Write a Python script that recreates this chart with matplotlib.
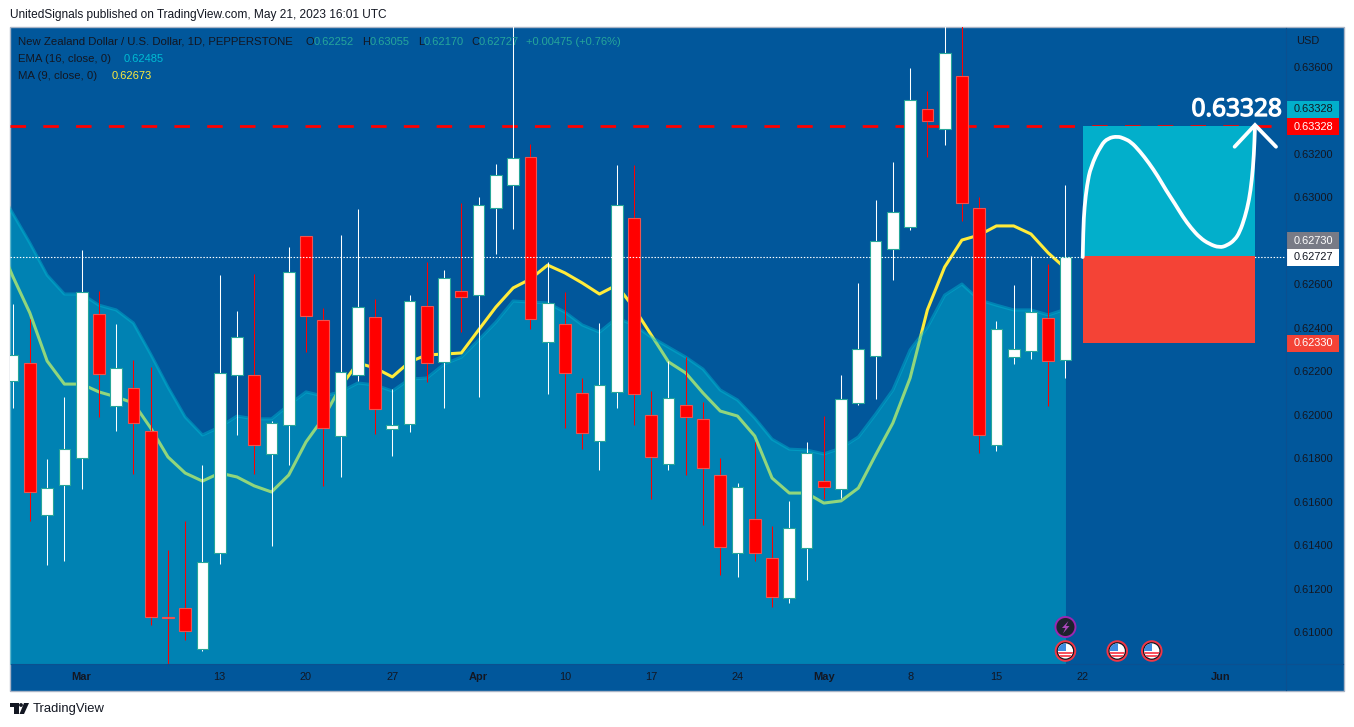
import numpy as np
import matplotlib
matplotlib.use("Agg")
import matplotlib.pyplot as plt
import matplotlib.patheffects as pe
from matplotlib.patches import Rectangle, Circle, Polygon, PathPatch
from matplotlib.path import Path

plt.rcParams['font.family'] = ['Liberation Sans', 'DejaVu Sans']

opens = [.62154,.62237,.61538,.61676,.61800,.62462,.62039,.62122,.61924,.61069,.61110,.60922,.61363,.62181,.62181,.61818,.61952,.62820,.62434,.61901,.62181,.62448,.61933,.61956,.62499,.62241,.62568,.62549,.62949,.63055,.63184,.62334,.62417,.62099,.61878,.62103,.62903,.61997,.61772,.62043,.61979,.61722,.61363,.61519,.61340,.61156,.61386,.61694,.61657,.62053,.62270,.62761,.62862,.63404,.63312,.63556,.62949,.61860,.62264,.62292,.62443,.62252]
highs = [.62509,.62440,.61797,.62082,.62757,.62569,.62417,.62252,.62218,.61378,.61510,.61769,.62642,.62477,.62647,.61971,.62771,.62820,.62491,.62826,.62946,.62532,.62118,.62550,.62704,.62665,.62972,.63001,.63154,.63850,.63245,.62704,.62564,.62168,.62423,.63148,.63148,.62109,.62247,.62264,.62060,.61803,.61685,.61876,.61489,.61602,.61875,.61994,.62183,.62606,.62987,.63162,.63593,.63488,.63850,.63850,.63000,.62431,.62596,.62730,.62692,.63055]
lows = [.62031,.61512,.61309,.61329,.61659,.61988,.61927,.61728,.61034,.60850,.60965,.60915,.61314,.61907,.61728,.61397,.61769,.62290,.61674,.61715,.62154,.61911,.61810,.61922,.62152,.62031,.62379,.62083,.62739,.62854,.62393,.62095,.61940,.61844,.61746,.62031,.61953,.61614,.61746,.61723,.61493,.61263,.61256,.61328,.61118,.61136,.61240,.61611,.61616,.62045,.62071,.62619,.62849,.63186,.63240,.62891,.61826,.61833,.62233,.62258,.62042,.62170]
closes = [.62273,.61646,.61665,.61844,.62566,.62186,.62216,.61963,.61069,.61066,.61005,.61324,.62191,.62359,.61862,.61961,.62655,.62453,.61938,.62198,.62494,.62025,.61954,.62524,.62239,.62627,.62540,.62963,.63101,.63179,.62439,.62512,.62191,.61917,.62138,.62963,.62094,.61807,.62078,.61991,.61757,.61391,.61669,.61366,.61161,.61481,.61826,.61667,.62071,.62301,.62800,.62933,.63446,.63352,.63662,.62975,.61908,.62393,.62304,.62474,.62248,.62727]

# the two averages start one session before the first visible candle
ema16 = [.63065,.62927,.62790,.62642,.62555,.62555,.62504,.62482,.62422,.62279,.62128,.61990,.61907,.61944,.61994,.61981,.61981,.62045,.62105,.62086,.62105,.62146,.62137,.62109,.62164,.62169,.62233,.62265,.62344,.62426,.62523,.62518,.62514,.62472,.62413,.62380,.62445,.62413,.62357,.62311,.62265,.62210,.62114,.62068,.61985,.61888,.61842,.61838,.61820,.61847,.61898,.62003,.62114,.62298,.62403,.62550,.62601,.62528,.62504,.62482,.62482,.62459,.62485]
ma9 = [.62826,.62638,.62468,.62247,.62141,.62141,.62105,.62082,.62054,.61939,.61806,.61732,.61695,.61732,.61714,.61673,.61645,.61723,.61875,.61985,.62128,.62238,.62215,.62174,.62243,.62275,.62279,.62284,.62390,.62495,.62583,.62624,.62688,.62652,.62606,.62555,.62596,.62491,.62367,.62243,.62192,.62100,.62017,.61994,.61902,.61709,.61640,.61640,.61594,.61604,.61663,.61815,.61962,.62169,.62482,.62679,.62803,.62826,.62868,.62868,.62831,.62744,.62673]

price_ticks = [.610,.612,.614,.616,.618,.620,.622,.624,.626,.630,.632,.636]
date_ticks = [4,12,17,22,27,32,37,42,47,52,57,62,70]
date_labels = ['Mar','13','20','27','Apr','10','17','24','May','8','15','22','Jun']
event_flags = [61,64,66]
event_bolt = [61]

target = .63328
entry = .62730
stop = .62330
last = .62727
box_left, box_right = 62.0, 71.98
path_x = [62.0,62.03,62.1,62.25,62.46,63.06,63.47,64.02,64.4,64.80,65.3,65.84,66.35,66.82,67.35,67.81,68.28,68.80,69.33,69.92,70.36,70.80,71.1,71.40,71.64,71.80,71.92,71.98]
path_y = [.62725,.62850,.62955,.63056,.63139,.63240,.63272,.63280,.63270,.63254,.63212,.63157,.63097,.63033,.62969,.62909,.62858,.62813,.62785,.62768,.62778,.62803,.62840,.62909,.62987,.63079,.63194,.63323]
head_x = [70.8,71.98,73.2]
head_y = [.63232,.63332,.63232]

BG = '#01579B'
INK = '#131722'
W, H = 1354, 727
fig = plt.figure(figsize=(W/100, H/100), dpi=100, facecolor='white')

# ---- page layer in pixels -------------------------------------------------
page = fig.add_axes([0, 0, 1, 1], zorder=0)
page.set_xlim(0, W); page.set_ylim(H, 0); page.axis('off')
page.add_patch(Rectangle((10, 27), 1334, 664, fc=BG, ec='#A9B4C6', lw=1))

# ---- chart -----------------------------------------------------------------
x0, bar = 12.6, 17.26
left_i, right_i = (10-x0)/bar, (1286-x0)/bar
ax = fig.add_axes([10/W, (H-664)/H, 1276/W, 637/H], zorder=1)
ax.patch.set_alpha(0)
ax.set_xlim(left_i, right_i)
ax.set_ylim(.608542, .637825)
for s in ax.spines.values():
    s.set_visible(False)

n = len(opens)
idx = np.arange(n)
o, h, l, c = map(np.array, (opens, highs, lows, closes))
up = c >= o
ma_x = ema_x = np.arange(-1, n)

ax.plot(ma_x, ma9, color='#FFEB3B', lw=2.2, zorder=1, solid_joinstyle='round')
ax.fill_between(ema_x, ema16, .6, color='#00BCD4', alpha=.43, lw=0, zorder=2)
ax.plot(ema_x, ema16, color='#00BCD4', alpha=.43, lw=2.2, zorder=3)

ax.plot([left_i, 73.4], [target, target], color='#FF0000', lw=2.0, ls=(0, (5.6, 6.2)), zorder=2.5)

for mask, col in ((up, 'white'), (~up, '#FF0000')):
    wicks = ax.vlines(idx[mask], l[mask], h[mask], color=col, lw=.75, zorder=4)
    wicks.set_snap(True)
ax.bar(idx[up], (c-o)[up], bottom=o[up], width=.68, color='white', edgecolor='#26A69A', lw=.8, zorder=5)
ax.bar(idx[~up], (o-c)[~up], bottom=c[~up], width=.68, color='#FF0000', edgecolor='#EF5350', lw=.8, zorder=5)

ax.axhline(last, color='white', lw=.8, ls=(0, (1.3, 1.5)), zorder=6)

ax.add_patch(Rectangle((box_left, entry), box_right-box_left, target-entry, fc='#02AFCB', ec='none', zorder=6))
ax.add_patch(Rectangle((box_left, stop), box_right-box_left, entry-stop, fc='#F44336', ec='none', zorder=6))

# smooth hand-drawn curve: the read points act as quadratic control points
px, py = np.array(path_x), np.array(path_y)
mx, my = (px[:-1]+px[1:])/2, (py[:-1]+py[1:])/2
verts = [(px[0], py[0])]
codes = [Path.MOVETO]
for k in range(1, len(px)-1):
    verts += [(px[k], py[k]), (mx[k], my[k])]
    codes += [Path.CURVE3, Path.CURVE3]
verts.append((px[-1], py[-1]))
codes.append(Path.LINETO)
ax.add_patch(PathPatch(Path(verts, codes), fc='none', ec='white', lw=2.7, zorder=7, capstyle='round', joinstyle='round'))
ax.plot(head_x, head_y, color='white', lw=2.7, zorder=7, solid_capstyle='round', solid_joinstyle='miter')

ax.yaxis.tick_right()
ax.set_yticks(price_ticks)
ax.set_yticklabels([f'{v:.5f}' for v in price_ticks], fontsize=7.9, color=INK)
ax.set_xticks(date_ticks)
ax.set_xticklabels(date_labels, fontsize=7.9, color=INK)
for t, s in zip(ax.get_xticklabels(), date_labels):
    if s.isalpha():
        t.set_fontweight('bold')
ax.tick_params(axis='y', length=0, pad=5.4)
ax.tick_params(axis='x', length=0, pad=5.6)

# ---- overlay layer ---------------------------------------------------------
top = fig.add_axes([0, 0, 1, 1], zorder=2)
top.set_xlim(0, W); top.set_ylim(H, 0); top.axis('off')
top.plot([1286, 1286], [28, 690], color='#0B5090', lw=.8)
top.plot([11, 1343], [664, 664], color='#0B5090', lw=.8)

top.text(10, 15, 'UnitedSignals published on TradingView.com, May 21, 2023 16:01 UTC', fontsize=8.6, color=INK, va='center')
top.text(33, 709, 'TradingView', fontsize=9.4, color=INK, va='center')
top.add_patch(Polygon([(10,703),(19,703),(19,714),(14,714),(14,707),(10,707)], fc=INK, ec='none'))
top.add_patch(Circle((21,705), 1.9, fc=INK, ec='none'))
top.add_patch(Polygon([(24,703),(29,703),(24,714),(19.5,714)], fc=INK, ec='none'))

LEG = 8.2
top.text(18, 42, 'New Zealand Dollar / U.S. Dollar, 1D, PEPPERSTONE', fontsize=LEG, color=INK, va='center')
for x, s, col in [(306,'O',INK),(313.5,'0.62252','#26A69A'),(362,'H',INK),(369.5,'0.63055','#26A69A'),
                  (418,'L',INK),(423.5,'0.62170','#26A69A'),(471,'C',INK),(479,'0.62727','#26A69A'),
                  (526.5,'+0.00475 (+0.76%)','#26A69A')]:
    top.text(x, 42, s, fontsize=8.0, color=col, va='center')
top.text(17.5, 59, 'EMA (16, close, 0)', fontsize=LEG, color=INK, va='center')
top.text(123.5, 59, '0.62485', fontsize=8.0, color='#00BCD4', va='center')
top.text(18, 76, 'MA (9, close, 0)', fontsize=LEG, color=INK, va='center')
top.text(111.5, 76, '0.62673', fontsize=8.0, color='#FFEB3B', va='center')

top.text(1296, 41, 'USD', fontsize=7.9, color=INK, va='center')
for y0, y1, s, fc, tc in [(101,118,'0.63328','#02AFCB',INK),(118,135,'0.63328','#FF0000','white'),
                          (232,249,'0.62730','#787B86','white'),(249,266,'0.62727','white',INK),
                          (335,352,'0.62330','#F44336','white')]:
    top.add_patch(Rectangle((1286, y0), 53, y1-y0, fc=fc, ec='none'))
    top.text(1293.5, (y0+y1)/2, s, fontsize=7.9, color=tc, va='center')

big = top.text(1282, 110, '0.63328', fontsize=17.6, color='white',
               family='Noto Sans', ha='right', va='center')
big.set_path_effects([pe.withStroke(linewidth=.9, foreground='white')])

def ix(i):
    return x0 + bar*i

for i in event_bolt:
    cx, cy = ix(i), 627
    top.add_patch(Circle((cx, cy), 10, fc='#1E222D', ec='#9C27B0', lw=1.4))
    top.add_patch(Polygon([(cx+3,cy-6),(cx-3.5,cy+1),(cx,cy+1),(cx-2.5,cy+6.5),(cx+4,cy-1),(cx+.5,cy-1)], fc='#AB47BC', ec='none'))
for i in event_flags:
    cx, cy = ix(i), 651
    top.add_patch(Circle((cx, cy), 9.8, fc='#131722', ec='#F23645', lw=1.4))
    face = Circle((cx, cy), 7.6, fc='white', ec='none')
    top.add_patch(face)
    for dy in (0.5, 4):
        r = Rectangle((cx-8, cy+dy), 16, 2, fc='#F7525F', ec='none')
        top.add_patch(r); r.set_clip_path(face)
    r = Rectangle((cx-8, cy-8), 8.5, 8, fc='#3D8BE0', ec='none')
    top.add_patch(r); r.set_clip_path(face)

fig.savefig('out.png', dpi=100, facecolor='white')
